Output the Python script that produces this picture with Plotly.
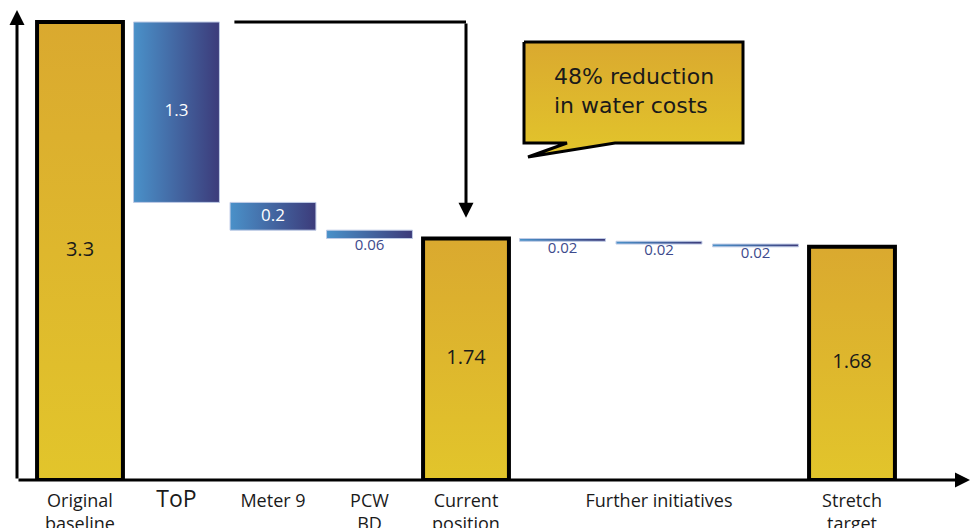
import plotly.graph_objects as go

# ---- data -------------------------------------------------------------
categories = ["Original baseline", "ToP", "Meter 9", "PCW BD", "Current position",
              "Further initiatives", "Further initiatives", "Further initiatives",
              "Stretch target"]
measures = ["total", "decrease", "decrease", "decrease", "total",
            "decrease", "decrease", "decrease", "total"]
values = [3.3, 1.3, 0.2, 0.06, 1.74, 0.02, 0.02, 0.02, 1.68]
value_labels = ["3.3", "1.3", "0.2", "0.06", "1.74", "0.02", "0.02", "0.02", "1.68"]

tick_positions = [0, 1, 2, 3, 4, 6, 8]
tick_labels = ["Original<br>baseline",
               '<span style="font-size:23px">ToP</span>',
               "Meter 9",
               "PCW<br>BD",
               "Current<br>position",
               "Further initiatives",
               "Stretch<br>target"]

callout_text = "48% reduction<br>in water costs"

# ---- geometry / style ---------------------------------------------------
W, H = 971, 528
BOTTOM_MARGIN = 48
PLOT_H = H - BOTTOM_MARGIN
SLOT = 96.5          # px between neighbouring bars
FIRST = 80           # px from left edge to first bar centre
HALF = 0.445         # bar half width in slot units
TOP_PX = 22          # px where the baseline total reaches

# gradient runs from the bottom (0) to the top (1)
GOLD = [[0, "#E2C52B"], [1, "#DAA92F"]]
BLUE = [[0, "#4A91C9"], [1, "#3C3B7A"]]
FONT = "Open Sans"

# running waterfall levels
bottoms, tops = [], []
level = 0.0
for m, v in zip(measures, values):
    if m == "total":
        b, t = 0.0, v
        level = v
    else:
        t = level
        b = level - v
        level = b
    bottoms.append(b)
    tops.append(t)

fig = go.Figure()

# bars as gradient-filled rectangles in data coordinates
for i, (m, b, t) in enumerate(zip(measures, bottoms, tops)):
    xs = [i - HALF, i + HALF, i + HALF, i - HALF, i - HALF]
    ys = [b, b, t, t, b]
    if m == "total":
        fig.add_trace(go.Scatter(
            x=xs, y=ys, mode="lines", fill="toself",
            line=dict(color="#000000", width=4),
            fillgradient=dict(type="vertical", colorscale=GOLD),
            hoverinfo="skip", showlegend=False))
    else:
        fig.add_trace(go.Scatter(
            x=xs, y=ys, mode="lines", fill="toself",
            line=dict(color="#BFCBE6", width=1),
            fillgradient=dict(type="horizontal", colorscale=BLUE),
            hoverinfo="skip", showlegend=False))

# value labels
ymax = values[0] * PLOT_H / (PLOT_H - TOP_PX)
inside_x, inside_y, inside_t, inside_c, inside_s = [], [], [], [], []
below_x, below_y, below_t = [], [], []
for i, (m, v, b, t, lab) in enumerate(zip(measures, values, bottoms, tops, value_labels)):
    if m == "total":
        inside_x.append(i); inside_y.append((b + t) / 2); inside_t.append(lab)
        inside_c.append("#1a1a1a"); inside_s.append(20)
    elif v >= 0.15:
        inside_x.append(i); inside_y.append((b + t) / 2); inside_t.append(lab)
        inside_c.append("#ffffff"); inside_s.append(17)
    else:
        below_x.append(i); below_y.append(b); below_t.append(lab)

fig.add_trace(go.Scatter(
    x=inside_x, y=inside_y, text=inside_t, mode="text",
    textfont=dict(family=FONT, size=inside_s, color=inside_c),
    hoverinfo="skip", showlegend=False))
fig.add_trace(go.Scatter(
    x=below_x, y=below_y, text=below_t, mode="text", textposition="bottom center",
    textfont=dict(family=FONT, size=15, color="#3D4A8C"),
    hoverinfo="skip", showlegend=False))

# speech-bubble callout on a pixel overlay (y grows downwards)
bx = [524, 743, 743, 615, 528, 567, 524, 524]
by = [42, 42, 143, 143, 157, 143, 143, 42]
fig.add_trace(go.Scatter(
    x=bx, y=by, xaxis="x2", yaxis="y2", mode="lines", fill="toself",
    line=dict(color="#000000", width=3),
    fillgradient=dict(type="vertical", colorscale=GOLD),
    hoverinfo="skip", showlegend=False))

annotations = [
    dict(x=634, y=91, xref="x2", yref="y2", text=callout_text, showarrow=False,
         font=dict(family="DejaVu Sans", size=22, color="#1a1a1a"), align="left"),
    # y axis arrow
    dict(x=17 / W, y=1 - 10 / PLOT_H, xref="paper", yref="paper",
         ax=0, ay=PLOT_H - 10, text="", showarrow=True,
         arrowhead=2, arrowsize=1, arrowwidth=3, arrowcolor="#000000"),
    # x axis arrow
    dict(x=1 - 1 / W, y=0, xref="paper", yref="paper",
         ax=-(W - 18), ay=0, text="", showarrow=True,
         arrowhead=2, arrowsize=1, arrowwidth=3, arrowcolor="#000000"),
    # drop from baseline level down to the current position
    dict(x=4, y=tops[4] + 0.15, xref="x", yref="y",
         ax=4, ay=values[0], axref="x", ayref="y", text="", showarrow=True,
         arrowhead=2, arrowsize=1, arrowwidth=3, arrowcolor="#000000"),
]

shapes = [
    dict(type="line", xref="x", yref="y", x0=1.6, x1=4, y0=values[0], y1=values[0],
         line=dict(color="#000000", width=3)),
]

fig.update_layout(
    width=W, height=H,
    margin=dict(l=0, r=0, t=0, b=BOTTOM_MARGIN),
    plot_bgcolor="#ffffff", paper_bgcolor="#ffffff",
    xaxis=dict(range=[-FIRST / SLOT, (W - FIRST) / SLOT], showgrid=False,
               zeroline=False, showline=False, ticks="",
               tickvals=tick_positions, ticktext=tick_labels,
               ticklabelstandoff=8, automargin=False,
               tickfont=dict(family=FONT, size=18, color="#1a1a1a"),
               fixedrange=True),
    yaxis=dict(range=[0, ymax], visible=False, fixedrange=True, automargin=False),
    xaxis2=dict(range=[0, W], overlaying="x", visible=False, fixedrange=True),
    yaxis2=dict(range=[PLOT_H, 0], overlaying="y", visible=False, fixedrange=True),
    annotations=annotations,
    shapes=shapes,
    showlegend=False,
)

fig.write_html("out.html", config={"displayModeBar": False})
